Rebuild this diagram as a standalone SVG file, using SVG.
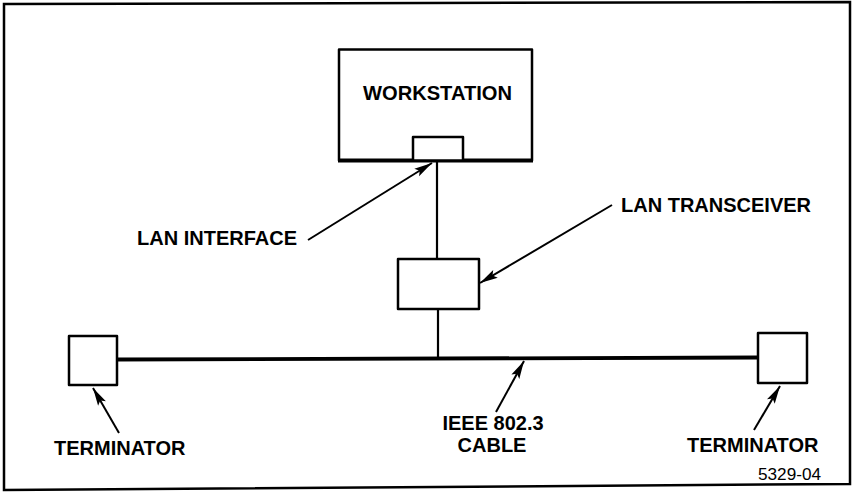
<svg xmlns="http://www.w3.org/2000/svg" width="853" height="493" viewBox="0 0 853 493">
  <defs>
    <marker id="ah" viewBox="0 0 18 10" refX="18" refY="5" markerWidth="18" markerHeight="10" markerUnits="userSpaceOnUse" orient="auto">
      <path d="M0,0.5 L18,5 L0,9.5 L3.5,5 Z" fill="#000"/>
    </marker>
    <style>
      .box { fill: #fff; stroke: #000; stroke-width: 2.5; stroke-linejoin: round; }
      .wire { stroke: #000; stroke-width: 2.2; fill: none; }
      .cable { stroke: #000; stroke-width: 3.8; fill: none; }
      .arrow { stroke: #000; stroke-width: 2; fill: none; marker-end: url(#ah); }
      .lbl { font-family: "Liberation Sans", Arial, sans-serif; font-weight: bold; font-size: 20px; fill: #000; }
      .num { font-family: "Liberation Sans", Arial, sans-serif; font-size: 16px; fill: #000; }
    </style>
  </defs>
  <rect width="853" height="493" fill="#fff"/>
  <path d="M4,4 L850,2 L850,484 L4,490 Z" fill="none" stroke="#000" stroke-width="2.5"/>

  <g id="connectors">
    <line class="wire" x1="437" y1="161" x2="437" y2="259"/>
    <line class="wire" x1="438" y1="309" x2="438" y2="359"/>
    <line class="cable" x1="117" y1="359.5" x2="758" y2="357.5"/>
    <line class="arrow" x1="308" y1="240" x2="432" y2="163"/>
    <line class="arrow" x1="612" y1="205" x2="480" y2="283"/>
    <line class="arrow" x1="119" y1="433" x2="93" y2="388"/>
    <line class="arrow" x1="496" y1="412" x2="524" y2="361"/>
    <line class="arrow" x1="754" y1="430" x2="780" y2="386"/>
  </g>

  <g id="workstation">
    <rect class="box" x="339" y="49.5" width="193" height="111"/>
    <line x1="338" y1="160.5" x2="533" y2="160.5" stroke="#000" stroke-width="3.8"/>
    <text class="lbl" x="363" y="100" font-size="23" textLength="149" lengthAdjust="spacingAndGlyphs">WORKSTATION</text>
  </g>

  <g id="lan-interface">
    <rect class="box" x="413" y="137" width="50" height="23.5"/>
    <text class="lbl" x="137" y="245">LAN INTERFACE</text>
  </g>

  <g id="lan-transceiver">
    <rect class="box" x="398" y="259" width="81" height="50"/>
    <text class="lbl" x="621" y="212">LAN TRANSCEIVER</text>
  </g>

  <g id="terminator-left">
    <rect class="box" x="69" y="336" width="48" height="49"/>
    <text class="lbl" x="54" y="455">TERMINATOR</text>
  </g>

  <g id="terminator-right">
    <rect class="box" x="758" y="333" width="49" height="50"/>
    <text class="lbl" x="687" y="452">TERMINATOR</text>
  </g>

  <g id="cable-label">
    <text class="lbl" x="493" y="430" text-anchor="middle">IEEE 802.3</text>
    <text class="lbl" x="492" y="452" text-anchor="middle">CABLE</text>
  </g>

  <text class="num" x="758" y="480" textLength="63" lengthAdjust="spacingAndGlyphs">5329-04</text>
</svg>
